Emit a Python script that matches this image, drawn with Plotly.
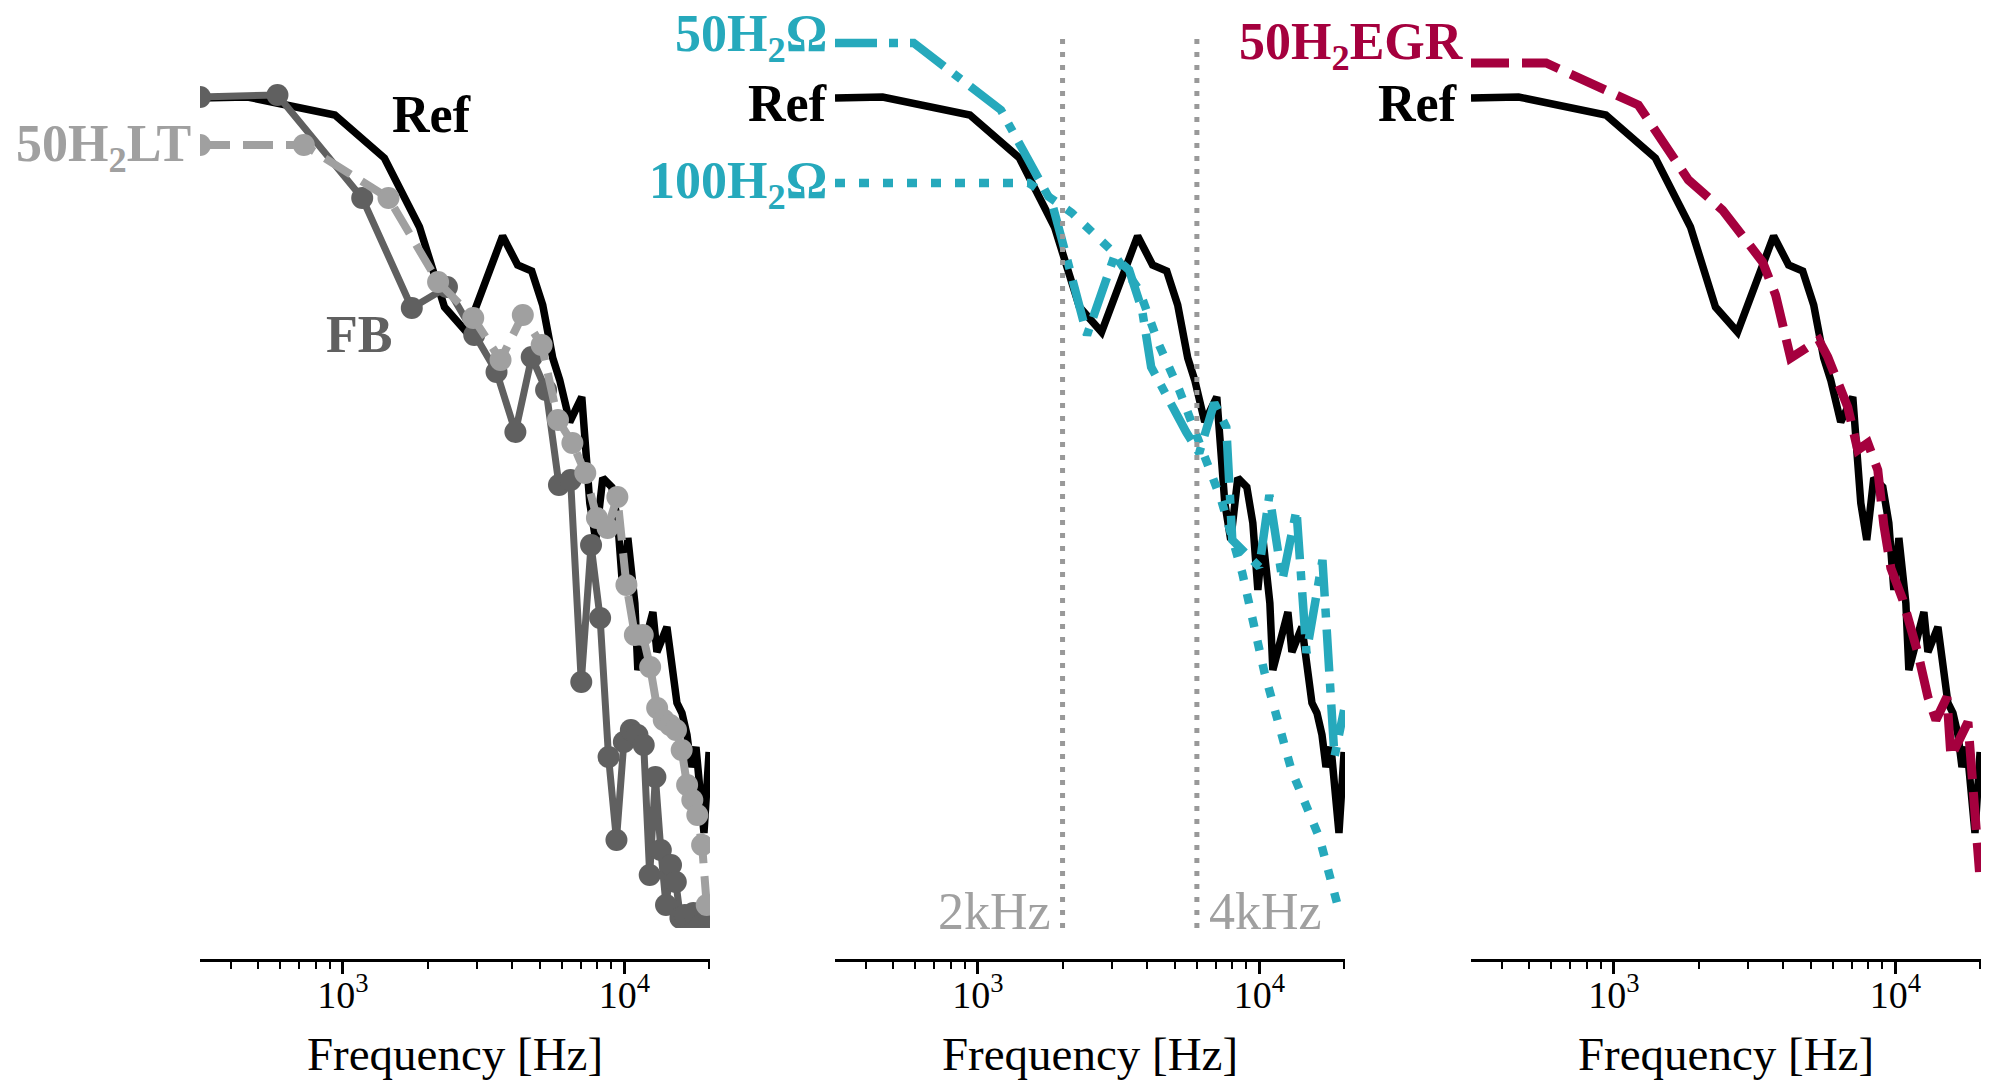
import numpy as np
import plotly.graph_objects as go

# ---------------- data ----------------
F_MIN, F_MAX = 311.0, 20150.0      # x-axis limits [Hz]
Y_MIN, Y_MAX = 0.0, 89.2           # relative PSD limits [dB]

ref_freq = [0, 459, 937, 1405, 1872, 2297, 2751, 3695, 4178, 4688, 5129, 5432, 5568,
            5895, 6397, 7061, 7236, 7539, 7914, 8385, 9026, 9482, 9879, 10292, 10899,
            11169, 12632, 13053, 14166, 15377, 16020, 16694, 17245, 17967, 19180, 20000]
ref_psd = [83.0, 83.1, 81.3, 77.0, 70.1, 62.1, 59.6, 69.2, 66.3, 65.7, 62.3, 58.8, 57.0,
           54.8, 50.6, 53.1, 48.5, 42.5, 38.8, 45.0, 44.1, 40.5, 33.8, 39.0, 32.5,
           25.8, 31.6, 27.6, 30.1, 22.5, 21.5, 19.3, 16.1, 18.1, 9.5, 17.6]

fb_freq = [0, 586, 1172, 1758, 2344, 2930, 3516, 4102, 4688, 5273, 5859, 6445, 7031,
           7617, 8203, 8789, 9375, 9961, 10547, 11133, 11719, 12305, 12891, 13477,
           14063, 14648, 15234, 15820, 16406, 16992, 17578, 18164, 18750, 19336, 19922]
fb_psd = [83.1, 83.3, 73.0, 62.0, 64.1, 59.3, 55.6, 49.6, 57.1, 53.8, 44.3, 44.8, 24.6,
          38.3, 31.0, 17.1, 8.8, 18.6, 19.8, 19.3, 18.3, 5.3, 15.1, 7.8,
          2.3, 6.3, 4.6, 1.0, 1.3, -0.7, 1.5, -0.2, 0.3, -0.7, 1.3]

lt_freq = [0, 727, 1453, 2180, 2906, 3633, 4359, 5086, 5813, 6539, 7266, 7992, 8719,
           9445, 10172, 10898, 11625, 12351, 13078, 13804, 14531, 15257, 15984, 16710,
           17437, 18163, 18890, 19616]
lt_psd = [78.3, 78.3, 73.0, 64.6, 61.0, 56.8, 61.3, 58.3, 50.8, 48.5, 45.5, 41.0, 40.0,
          43.1, 34.3, 29.3, 29.3, 26.1, 22.0, 20.8, 20.3, 19.8, 17.8, 14.3,
          12.8, 11.3, 8.3, 2.3]

o50_freq = [0, 592, 1208, 1434, 1834, 1991, 2443, 3048, 3446, 3833, 4128, 5498, 6116,
            6917, 7631, 8015, 10000, 10854, 12075, 13547, 14702, 16757, 18488, 20000]
o50_psd = [88.5, 88.5, 81.8, 78.1, 72.5, 68.8, 59.3, 67.1, 65.8, 61.8, 56.1, 49.6, 47.5,
           52.5, 50.1, 38.8, 36.1, 43.3, 34.8, 41.8, 27.5, 36.8, 17.1, 21.8]

o100_freq = [0, 1519, 2160, 2974, 3741, 4406, 5193, 6116, 7324, 8700, 10419, 13000,
             16355, 19300]
o100_psd = [74.5, 74.5, 71.5, 67.8, 63.8, 58.3, 53.8, 48.3, 42.8, 35.5, 25.6, 15.8,
            9.0, 1.5]

egr_freq = [0, 575, 1222, 1563, 1841, 2433, 3377, 3756, 4247, 5344, 5752, 6776, 7354,
            7983, 8663, 9100, 9640, 10634, 12026, 13053, 13937, 15253, 15757, 18113,
            18722, 19900]
egr_psd = [86.5, 86.5, 82.3, 77.8, 74.8, 71.8, 66.6, 63.3, 57.0, 58.8, 57.1, 52.1, 47.8,
           48.5, 45.8, 40.3, 36.0, 32.8, 27.5, 23.1, 20.8, 23.1, 17.1, 20.6,
           14.3, 5.6]

band_freqs = [2000, 6000]
band_labels = ["2kHz", "4kHz"]

major_ticks = [1000, 10000]
major_text = ["10<sup>3</sup>", "10<sup>4</sup>"]
minor_ticks = [400, 500, 600, 700, 800, 900, 2000, 3000, 4000, 5000, 6000, 7000,
               8000, 9000, 20000]

# ---------------- styles ----------------
BLACK = "#000000"
DGREY = "#606060"
LGREY = "#A0A0A0"
VGREY = "#999999"
CYAN = "#26A9BC"
CRIMSON = "#A5003E"
FONT = "'Liberation Serif', 'Times New Roman', 'DejaVu Serif', serif"


def clip_f(freqs):
    # a 0 Hz bin cannot sit on a log axis: pin it to the left limit
    return [max(f, F_MIN) for f in freqs]


fig = go.Figure()

def line(xa, ya, f, v, color, width, dash="solid", markers=False, msize=22):
    kw = dict(x=clip_f(f), y=v, xaxis=xa, yaxis=ya, showlegend=False, hoverinfo="skip",
              line=dict(color=color, width=width, dash=dash))
    if markers:
        kw["mode"] = "lines+markers"
        kw["marker"] = dict(size=msize, color=color, line=dict(width=0))
    else:
        kw["mode"] = "lines"
    fig.add_trace(go.Scatter(**kw))

# panel 1
line("x", "y", ref_freq, ref_psd, BLACK, 7.5)
line("x", "y", fb_freq, fb_psd, DGREY, 7, markers=True)
line("x", "y", lt_freq, lt_psd, LGREY, 8, dash="30px,13px", markers=True)
# panel 2
line("x2", "y2", ref_freq, ref_psd, BLACK, 7.5)
line("x2", "y2", o100_freq, o100_psd, CYAN, 8.5, dash="10px,14px")
line("x2", "y2", o50_freq, o50_psd, CYAN, 8.5, dash="42px,12px,9px,12px")
for bf in band_freqs:
    fig.add_trace(go.Scatter(x=[bf, bf], y=[Y_MIN, Y_MAX], xaxis="x2", yaxis="y2",
                             mode="lines", showlegend=False, hoverinfo="skip",
                             line=dict(color=VGREY, width=5, dash="5px,8px")))
# panel 3
line("x3", "y3", ref_freq, ref_psd, BLACK, 7.5)
line("x3", "y3", egr_freq, egr_psd, CRIMSON, 9, dash="38px,13px")

# ---------------- axes ----------------
W, H = 2000, 1081
AX_Y = 960          # pixel row of the x-axis line
Y_BOT, Y_TOP = 928, 36
panels = [(200, 710), (835, 1345), (1471, 1981)]

xr = [np.log10(F_MIN), np.log10(F_MAX)]
for i, (x0, x1) in enumerate(panels):
    sfx = "" if i == 0 else str(i + 1)
    fig.layout["xaxis" + sfx] = dict(
        domain=[x0 / W, x1 / W], type="log", range=xr, anchor="free",
        position=(H - AX_Y) / H, showline=True, linecolor="black", linewidth=3,
        showgrid=False, zeroline=False, ticks="outside", ticklen=12, tickwidth=2.5,
        tickcolor="black", tickmode="array", tickvals=major_ticks, ticktext=major_text,
        tickfont=dict(family=FONT, size=38, color="black"), ticklabelstandoff=-12,
        minor=dict(ticks="outside", ticklen=7, tickwidth=2, tickcolor="black",
                   tickmode="array", tickvals=minor_ticks, showgrid=False),
        title=dict(text="Frequency [Hz]", font=dict(family=FONT, size=47, color="black"),
                   standoff=22),
    )
    fig.layout["yaxis" + sfx] = dict(
        domain=[(H - Y_BOT) / H, (H - Y_TOP) / H], range=[Y_MIN, Y_MAX], visible=False,
        anchor="x" + sfx,
    )

# ---------------- labels ----------------
LX = np.log10(F_MIN)

def label(xref, yref, x, y, text, color, xanchor, size=52, bold=True, xshift=0, yshift=0):
    t = f"<b>{text}</b>" if bold else text
    fig.add_annotation(x=x, y=y, xref=xref, yref=yref, text=t, showarrow=False,
                       xanchor=xanchor, yanchor="middle", xshift=xshift, yshift=yshift,
                       font=dict(family=FONT, size=size, color=color))

label("x", "y", LX, lt_psd[0], "50H<sub>2</sub>LT", LGREY, "right", xshift=-7, yshift=-3)
label("x", "y", np.log10(1470), 81.3, "Ref", BLACK, "left")
label("x", "y", np.log10(855), 59.3, "FB", DGREY, "left")

label("x2", "y2", LX, o50_psd[0], "50H<sub>2</sub>Ω", CYAN, "right", xshift=-6, yshift=5)
label("x2", "y2", LX, ref_psd[0], "Ref", BLACK, "right", xshift=-6, yshift=-6)
label("x2", "y2", LX, o100_psd[0], "100H<sub>2</sub>Ω", CYAN, "right", xshift=-6, yshift=-2)
label("x2", "y2", np.log10(band_freqs[0]), 1.7, band_labels[0], LGREY, "right",
      size=52, bold=False, xshift=-10)
label("x2", "y2", np.log10(band_freqs[1]), 1.7, band_labels[1], LGREY, "left",
      size=52, bold=False, xshift=10)

label("x3", "y3", LX, egr_psd[0], "50H<sub>2</sub>EGR", CRIMSON, "right", xshift=-5, yshift=17)
label("x3", "y3", LX, ref_psd[0], "Ref", BLACK, "right", xshift=-12, yshift=-6)

fig.update_layout(width=W, height=H, margin=dict(l=0, r=0, t=0, b=0),
                  paper_bgcolor="white", plot_bgcolor="white",
                  font=dict(family=FONT, color="black"))

fig.write_html("out.html")
